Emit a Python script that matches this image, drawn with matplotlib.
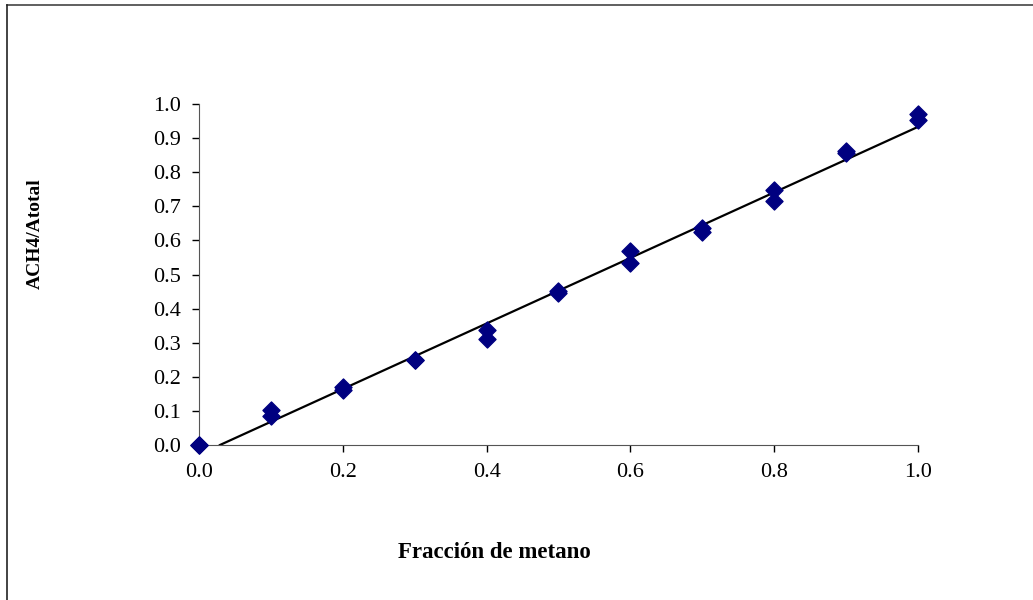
import numpy as np
import matplotlib
matplotlib.use("Agg")
import matplotlib.pyplot as plt
from matplotlib.lines import Line2D

# fraccion molar de metano y relacion de areas medida (dos inyecciones por punto)
fraccion = [0.0, 0.0, 0.1, 0.1, 0.2, 0.2, 0.3, 0.3, 0.4, 0.4, 0.5, 0.5,
            0.6, 0.6, 0.7, 0.7, 0.8, 0.8, 0.9, 0.9, 1.0, 1.0]
area_rel = [0.0, 0.0, 0.103, 0.085, 0.171, 0.162, 0.250, 0.249, 0.337, 0.312,
            0.452, 0.447, 0.569, 0.533, 0.636, 0.624, 0.748, 0.716, 0.863, 0.856,
            0.971, 0.952]

# linea de tendencia (ajuste lineal)
pendiente = 0.961
ordenada = -0.028

plt.rcParams['font.family'] = ['Liberation Serif', 'DejaVu Serif']

fig = plt.figure(figsize=(10.33, 6), dpi=100)
ax = fig.add_axes([0.1926, 0.2583, 0.8887 - 0.1926, 0.8267 - 0.2583])

x0 = -ordenada / pendiente
xt = np.array([x0, 1.0])
ax.plot(xt, pendiente * xt + ordenada, color='black', lw=1.6, zorder=2)
ax.scatter(fraccion, area_rel, marker='D', s=75, color='#000080',
           edgecolors='#000080', zorder=3, clip_on=False)

ax.set_xlim(0, 1.0)
ax.set_ylim(0, 1.0)
ax.set_xticks(np.arange(0, 1.01, 0.2))
ax.set_yticks(np.arange(0, 1.01, 0.1))
ax.xaxis.set_major_formatter(matplotlib.ticker.FormatStrFormatter('%.1f'))
ax.yaxis.set_major_formatter(matplotlib.ticker.FormatStrFormatter('%.1f'))
ax.tick_params(axis='both', labelsize=16, direction='out', length=5,
               width=1, color='black')
ax.tick_params(axis='x', pad=8)
ax.tick_params(axis='y', pad=8)
ax.spines['top'].set_visible(False)
ax.spines['right'].set_visible(False)
ax.spines['left'].set_color('#555555')
ax.spines['bottom'].set_color('#555555')

fig.text(494 / 1033, 1 - 552 / 600, 'Fracción de metano', ha='center',
         va='center', fontsize=16.5, fontweight='bold')
fig.text(35 / 1033, 1 - 234 / 600, 'ACH4/Atotal', ha='center', va='center',
         rotation=90, fontsize=14, fontweight='bold')

# marco exterior del grafico
fig.add_artist(Line2D([7 / 1033, 1], [1 - 5 / 600, 1 - 5 / 600],
                      transform=fig.transFigure, color='#444444', lw=1.2))
fig.add_artist(Line2D([7 / 1033, 7 / 1033], [0, 1 - 5 / 600],
                      transform=fig.transFigure, color='#222222', lw=1.2))

fig.savefig('out.png', dpi=100)
